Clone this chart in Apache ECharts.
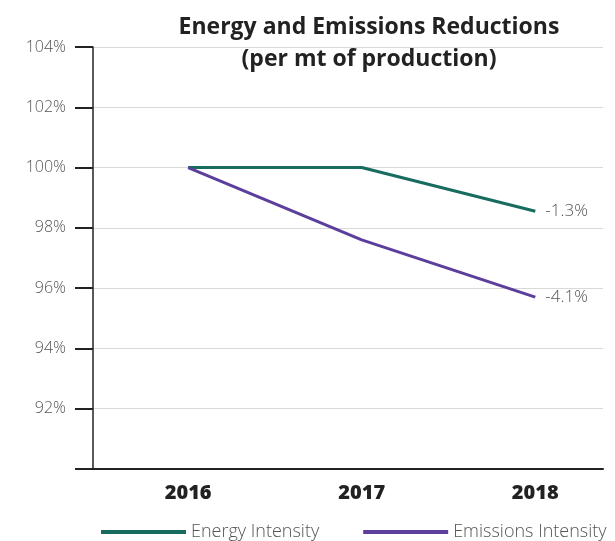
<!DOCTYPE html>
<html>
<head>
<meta charset="utf-8">
<script src="https://cdn.jsdelivr.net/npm/echarts@6/dist/echarts.min.js"></script>
<style>
  html, body { margin: 0; padding: 0; background: #fff; }
  #chart { width: 615px; height: 541px; }
</style>
</head>
<body>
<div id="chart"></div>
<script>
const years = ['2016', '2017', '2018'];
const energyIntensity = [100, 100, 98.55];
const emissionsIntensity = [100, 97.6, 95.7];
const endLabels = ['-1.3%', '-4.1%'];
const yTicks = [90, 92, 94, 96, 98, 100, 102, 104];

const toPoints = vals => vals.map((v, i) => [i, v]);

const labelText = {
  fontFamily: 'Open Sans',
  fontWeight: 300,
  fontSize: 16,
  color: '#555'
};

const chart = echarts.init(document.getElementById('chart'));

const option = {
  animation: false,
  title: {
    text: 'Energy and Emissions Reductions\n(per mt of production)',
    left: 364,
    top: 6,
    textAlign: 'center',
    textStyle: {
      fontFamily: 'Open Sans',
      fontWeight: 'bold',
      fontSize: 23,
      lineHeight: 32,
      color: '#222'
    }
  },
  legend: {
    left: 96,
    top: 518,
    itemWidth: 85,
    itemHeight: 4,
    itemGap: 44,
    icon: 'rect',
    textStyle: {
      fontFamily: 'Open Sans',
      fontWeight: 300,
      fontSize: 18,
      color: '#555'
    },
    data: ['Energy Intensity', 'Emissions Intensity']
  },
  grid: {
    left: 93,
    right: 12,
    top: 47,
    bottom: 72
  },
  xAxis: {
    type: 'value',
    min: -0.548,
    max: 2.39,
    axisLine: { show: true, onZero: false, lineStyle: { color: '#222', width: 2 } },
    axisTick: { show: false },
    splitLine: { show: false },
    axisLabel: {
      customValues: [0, 1, 2],
      formatter: v => years[Math.round(v)],
      margin: 14,
      fontFamily: 'Open Sans',
      fontWeight: 800,
      fontSize: 20,
      color: '#222'
    }
  },
  yAxis: {
    type: 'value',
    min: 90,
    max: 104,
    interval: 2,
    axisLine: { show: true, onZero: false, lineStyle: { color: '#222', width: 1.5 } },
    axisTick: { show: true, length: 18, lineStyle: { color: '#222', width: 2 } },
    splitLine: { show: true, lineStyle: { color: '#d9d9d9', width: 1 } },
    axisLabel: Object.assign({
      margin: 27,
      formatter: v => (v === yTicks[0] ? '' : v + '%')
    }, labelText)
  },
  series: [
    {
      name: 'Energy Intensity',
      type: 'line',
      data: toPoints(energyIntensity),
      showSymbol: false,
      lineStyle: { color: '#176c5f', width: 3 },
      itemStyle: { color: '#176c5f' },
      endLabel: Object.assign({ show: true, distance: 10, formatter: endLabels[0] }, labelText, { fontSize: 17 })
    },
    {
      name: 'Emissions Intensity',
      type: 'line',
      data: toPoints(emissionsIntensity),
      showSymbol: false,
      lineStyle: { color: '#5c3f9c', width: 3 },
      itemStyle: { color: '#5c3f9c' },
      endLabel: Object.assign({ show: true, distance: 10, formatter: endLabels[1] }, labelText, { fontSize: 17 })
    }
  ]
};

chart.setOption(option);
</script>
</body>
</html>
